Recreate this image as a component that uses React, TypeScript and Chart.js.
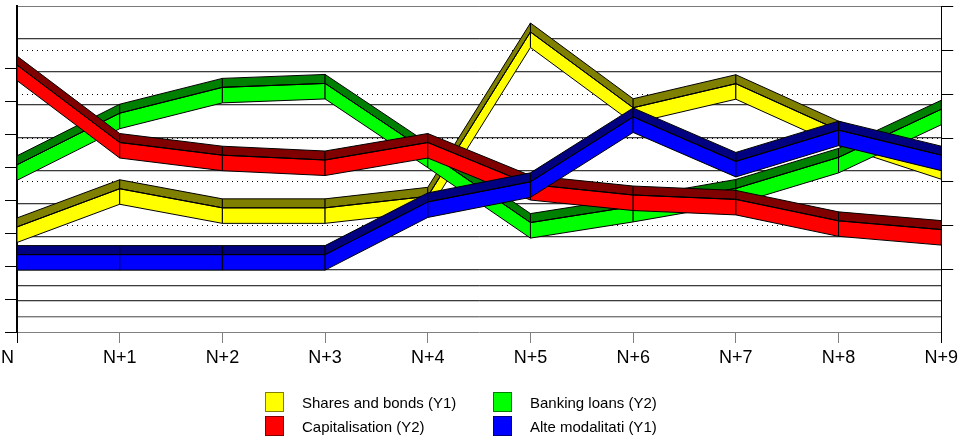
import { useEffect, useRef } from "react";
import { Chart, registerables } from "chart.js";

Chart.register(...registerables);

// Periods on the horizontal axis
const periods = ["N", "N+1", "N+2", "N+3", "N+4", "N+5", "N+6", "N+7", "N+8", "N+9"];

// Left axis (Y1) series
const sharesAndBonds = [31.9, 43.5, 37.7, 37.7, 41.2, 91.1, 68.1, 75.4, 61.3, 51.1];
const alteModalitati = [23.5, 23.5, 23.5, 23.5, 39.5, 45.6, 65.3, 51.8, 61.3, 53.7];

// Right axis (Y2) series
const capitalisation = [46.7, 29.0, 26.1, 25.0, 29.0, 19.4, 17.0, 16.0, 11.1, 9.1];
const bankingLoans = [23.9, 35.7, 41.6, 42.5, 26.8, 10.7, 14.4, 18.5, 25.6, 36.6];

// Tick marks on each value axis (labels are not shown)
const y1Ticks = [0, 10, 20, 30, 40, 50, 60, 70, 80];
const y2Ticks = [0, 10, 20, 30, 40, 50, 60];
// Back wall and floor rules
const wallLines = [-1.41, -0.94, -0.47, 0, 1, 2, 3, 4, 5, 6, 7, 8];

type Series = {
  label: string;
  data: number[];
  axis: "y" | "y2";
  face: string;
  top: string;
  order: number;
};

const series: Series[] = [
  { label: "Shares and bonds (Y1)", data: sharesAndBonds, axis: "y", face: "#ffff00", top: "#808000", order: 4 },
  { label: "Banking loans (Y2)", data: bankingLoans, axis: "y2", face: "#00ff00", top: "#008000", order: 3 },
  { label: "Capitalisation (Y2)", data: capitalisation, axis: "y2", face: "#ff0000", top: "#800000", order: 2 },
  { label: "Alte modalitati (Y1)", data: alteModalitati, axis: "y", face: "#0000ff", top: "#000080", order: 1 },
];

// Legend layout: two columns
const legendColumns = [
  [series[0], series[2]],
  [series[1], series[3]],
];

const RIBBON_UP = 9;
const RIBBON_DOWN = 15.5;
const WALL_MIN = -1.88;
const WALL_MAX = 8;
// one pixel expressed in wall units, for the light rule under each wall line
const WALL_SHADE = (WALL_MAX - WALL_MIN) / 326;

const FONT = "'Liberation Sans', Arial, Helvetica, sans-serif";

// Draws each line as an extruded ribbon: a dark upper face and a bright front face.
const ribbonPlugin = {
  id: "ribbon3d",
  beforeDatasetDraw(chart: any, args: any) {
    const s = series[args.index];
    if (!s) return;
    const pts = args.meta.data as { x: number; y: number }[];
    const { ctx, chartArea } = chart;
    ctx.save();
    ctx.beginPath();
    ctx.rect(chartArea.left, chartArea.top, chartArea.right - chartArea.left, chartArea.bottom - chartArea.top);
    ctx.clip();
    ctx.lineWidth = 1;
    ctx.strokeStyle = "#000";
    ctx.lineJoin = "miter";
    for (let i = 0; i < pts.length - 1; i++) {
      const a = pts[i];
      const b = pts[i + 1];
      ctx.beginPath();
      ctx.moveTo(a.x, a.y - RIBBON_UP);
      ctx.lineTo(b.x, b.y - RIBBON_UP);
      ctx.lineTo(b.x, b.y);
      ctx.lineTo(a.x, a.y);
      ctx.closePath();
      ctx.fillStyle = s.top;
      ctx.fill();
      ctx.stroke();

      ctx.beginPath();
      ctx.moveTo(a.x, a.y);
      ctx.lineTo(b.x, b.y);
      ctx.lineTo(b.x, b.y + RIBBON_DOWN);
      ctx.lineTo(a.x, a.y + RIBBON_DOWN);
      ctx.closePath();
      ctx.fillStyle = s.face;
      ctx.fill();
      ctx.stroke();
    }
    ctx.restore();
  },
};

// The first period label sits to the left of the value axis.
const firstLabelPlugin = {
  id: "firstPeriodLabel",
  afterDraw(chart: any) {
    const xs = chart.scales.x;
    const items = xs.getLabelItems();
    if (!items || !items.length) return;
    const it = items[0];
    const { ctx } = chart;
    ctx.save();
    ctx.font = it.font.string;
    ctx.fillStyle = "#000";
    ctx.textAlign = "right";
    ctx.textBaseline = it.options.textBaseline;
    ctx.fillText(String(periods[0]), xs.getPixelForTick(0) - 3, it.options.translation[1] + it.textOffset);
    ctx.restore();
  },
};

export default function App() {
  const canvasRef = useRef<HTMLCanvasElement | null>(null);

  useEffect(() => {
    const canvas = canvasRef.current;
    if (!canvas) return;
    Chart.defaults.font.family = FONT;

    const wallColor = (ctx: any) => {
      const v = ctx.tick ? ctx.tick.value : 0;
      if (v === WALL_MAX || v === -1.41) return "#7a7a7a";
      return "#3c3c3c";
    };

    const chart = new Chart(canvas, {
      type: "line",
      data: {
        labels: periods,
        datasets: series.map((s) => ({
          label: s.label,
          data: s.data,
          yAxisID: s.axis,
          order: s.order,
          borderColor: "#000",
          borderWidth: 1,
          pointRadius: 0,
          tension: 0,
          fill: false,
        })),
      },
      options: {
        responsive: false,
        maintainAspectRatio: false,
        animation: false,
        devicePixelRatio: 1,
        events: [],
        layout: { padding: { top: 6, left: 0, right: 0, bottom: 66 } },
        plugins: {
          legend: { display: false },
          tooltip: { enabled: false },
        },
        scales: {
          x: {
            type: "category",
            offset: false,
            position: "bottom",
            grid: {
              drawOnChartArea: false,
              drawTicks: true,
              tickLength: 11,
              color: "#808080",
              tickColor: (ctx: any) =>
                ctx.index === 0 || ctx.index === periods.length - 1 ? "#000" : "#808080",
            },
            border: { display: true, color: "#808080", width: 1 },
            ticks: {
              color: (ctx: any) => (ctx.index === 0 ? "rgba(0,0,0,0)" : "#000"),
              font: { size: 18, family: FONT },
              padding: 4,
              maxRotation: 0,
              autoSkip: false,
            },
            afterFit: (scale: any) => {
              scale.height = 40;
            },
          },
          wallShade: {
            type: "linear",
            position: "left",
            min: WALL_MIN + WALL_SHADE,
            max: WALL_MAX + WALL_SHADE,
            bounds: "data",
            afterBuildTicks: (scale: any) => {
              scale.ticks = wallLines.map((value) => ({ value }));
            },
            ticks: { display: false },
            border: { display: false },
            grid: {
              drawOnChartArea: true,
              drawTicks: false,
              lineWidth: 1,
              color: "#c8c8c8",
            },
            afterFit: (scale: any) => {
              scale.width = 0;
            },
          },
          wall: {
            type: "linear",
            position: "left",
            min: WALL_MIN,
            max: WALL_MAX,
            bounds: "data",
            afterBuildTicks: (scale: any) => {
              scale.ticks = wallLines.map((value) => ({ value }));
            },
            ticks: { display: false },
            border: { display: false },
            grid: {
              drawOnChartArea: true,
              drawTicks: false,
              lineWidth: 1,
              color: wallColor,
            },
            afterFit: (scale: any) => {
              scale.width = 0;
            },
          },
          y: {
            type: "linear",
            position: "left",
            min: 0,
            max: 99,
            bounds: "data",
            afterBuildTicks: (scale: any) => {
              scale.ticks = y1Ticks.map((value) => ({ value }));
            },
            ticks: { display: false },
            grid: {
              drawOnChartArea: false,
              drawTicks: true,
              tickLength: 12,
              color: "#000",
              tickColor: "#000",
            },
            border: { display: true, color: "#000", width: 2 },
            afterFit: (scale: any) => {
              scale.width = 17;
            },
          },
          y2: {
            type: "linear",
            position: "right",
            min: -14.3,
            max: 60.2,
            bounds: "data",
            afterBuildTicks: (scale: any) => {
              scale.ticks = y2Ticks.map((value) => ({ value }));
            },
            ticks: { display: false },
            grid: {
              drawOnChartArea: true,
              drawTicks: true,
              tickLength: 12,
              color: (ctx: any) => {
                const v = ctx.tick ? ctx.tick.value : 0;
                return v === 0 || v === 60 ? "rgba(0,0,0,0)" : "#000";
              },
              tickColor: "#000",
            },
            border: { display: true, color: "#000", width: 1, dash: [1, 4] },
            afterFit: (scale: any) => {
              scale.width = 18;
            },
          },
        },
      } as any,
      plugins: [ribbonPlugin, firstLabelPlugin],
    });

    return () => {
      chart.destroy();
    };
  }, []);

  return (
    <div style={{ position: "absolute", left: 0, top: 0, width: 962, height: 438, background: "#fff" }}>
      <canvas ref={canvasRef} width={962} height={438} style={{ display: "block" }} />
      {legendColumns.map((col, ci) => (
        <div key={ci} style={{ position: "absolute", left: ci === 0 ? 265 : 493, top: 392 }}>
          {col.map((s, ri) => (
            <div
              key={s.label}
              style={{ position: "absolute", left: 0, top: ri * 24, height: 20, whiteSpace: "nowrap" }}
            >
              <div
                style={{
                  position: "absolute",
                  left: 0,
                  top: 0,
                  width: 17,
                  height: 18,
                  background: s.face,
                  border: `1px solid ${s.top}`,
                }}
              />
              <div
                style={{
                  position: "absolute",
                  left: 37,
                  top: 0,
                  lineHeight: "21px",
                  fontFamily: FONT,
                  fontSize: 15,
                  color: "#000",
                }}
              >
                {s.label}
              </div>
            </div>
          ))}
        </div>
      ))}
    </div>
  );
}
